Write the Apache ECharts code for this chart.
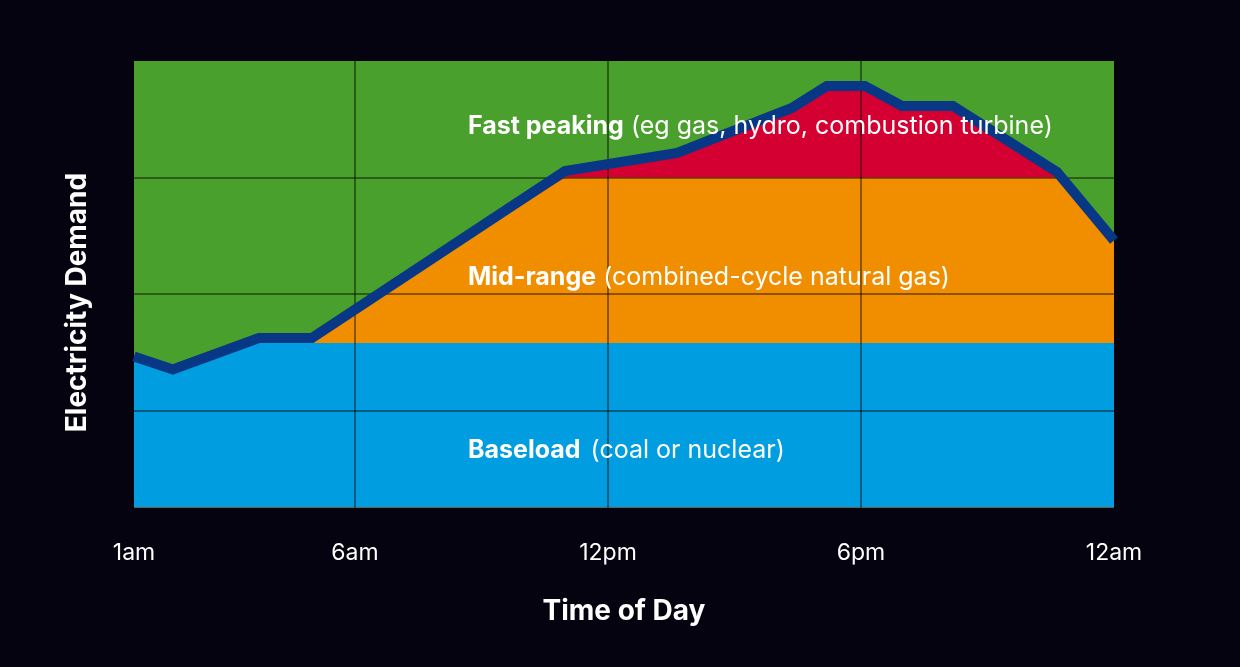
<!DOCTYPE html>
<html>
<head>
<meta charset="utf-8">
<script src="https://cdn.jsdelivr.net/npm/echarts@6/dist/echarts.min.js"></script>
<style>
html,body{margin:0;padding:0;background:#04030f;}
#chart{width:1240px;height:667px;}
</style>
</head>
<body>
<div id="chart"></div>
<script>
// Hours of day (x) and electricity demand (arbitrary units, y)
const hours  = [0.76, 1.68, 3.72, 4.98, 10.98, 13.64, 16.36, 17.19, 18.09, 18.97, 20.18, 22.65, 24];
const demand = [1.465, 1.354, 1.624, 1.624, 3.056, 3.211, 3.597, 3.786, 3.786, 3.614, 3.614, 3.048, 2.46];
// Capacity levels of each generation tier
const baseloadLevel = 1.58;
const midrangeLevel = 3.0;
// Axis ticks and labels
const xTickHours = [6, 12, 18];
const xLabelHours = [0.76, 6, 12, 18, 24];
const xLabels = ['1am', '6am', '12pm', '6pm', '12am'];
const yTickValues = [1, 2, 3];
const yMin = 0.17, yMax = 4;

const FONT = 'Inter';

const peakData = hours.map((h, i) => [h, demand[i]]);
const midData = hours.map((h, i) => [h, Math.min(demand[i], midrangeLevel)]);
const baseData = hours.map((h, i) => [h, Math.min(demand[i], baseloadLevel)]);

function areaSeries(name, data, color) {
  return {
    name, type: 'line', data, z: 2, symbol: 'none', silent: true,
    lineStyle: { width: 0 },
    areaStyle: { color, opacity: 1, origin: 'start' }
  };
}

function tierLabel(top, bold, regular, extraGap) {
  return {
    type: 'text', left: 468, top: top, z: 10,
    style: {
      text: '{b|' + bold + '} {r|' + regular + '}',
      fill: '#fff', fontSize: 25, fontFamily: FONT,
      rich: {
        b: { fill: '#fff', fontSize: 25, fontWeight: 'bold', fontFamily: FONT, padding: [0, extraGap, 0, 0] },
        r: { fill: '#fff', fontSize: 25, fontFamily: FONT }
      }
    }
  };
}

const chart = echarts.init(document.getElementById('chart'));
chart.setOption({
  backgroundColor: '#04030f',
  animation: false,
  grid: { left: 134, right: 126, top: 61, bottom: 159.5, show: true, backgroundColor: '#4aa02c', borderWidth: 0 },
  xAxis: {
    type: 'value', min: 0.76, max: 24, z: 3,
    axisLine: { show: false },
    axisTick: { show: false, customValues: xTickHours },
    splitLine: { show: true, lineStyle: { color: 'rgba(0,0,0,0.42)', width: 2 } },
    axisLabel: {
      customValues: xLabelHours, color: '#ffffff', fontSize: 23, fontFamily: FONT, margin: 34,
      formatter: function (v) {
        for (let i = 0; i < xLabelHours.length; i++) if (Math.abs(xLabelHours[i] - v) < 1e-6) return xLabels[i];
        return '';
      }
    },
    name: 'Time of Day', nameLocation: 'middle', nameGap: 90,
    nameTextStyle: { color: '#ffffff', fontSize: 28, fontWeight: 'bold', fontFamily: FONT }
  },
  yAxis: {
    type: 'value', min: yMin, max: yMax, z: 3,
    axisLine: { show: false },
    axisTick: { show: false, customValues: yTickValues },
    axisLabel: { show: false },
    splitLine: { show: true, lineStyle: { color: 'rgba(0,0,0,0.42)', width: 2 } }
  },
  series: [
    areaSeries('Fast peaking', peakData, '#d50032'),
    areaSeries('Mid-range', midData, '#f18e00'),
    areaSeries('Baseload', baseData, '#009ee0'),
    {
      name: 'Demand', type: 'line', data: peakData, z: 5, symbol: 'none', silent: true,
      lineStyle: { color: '#083885', width: 10, join: 'miter' }
    }
  ],
  graphic: [
    tierLabel(113.5, 'Fast peaking', '(eg gas, hydro, combustion turbine)', 0),
    tierLabel(264.5, 'Mid-range', '(combined-cycle natural gas)', 0),
    tierLabel(437.5, 'Baseload', '(coal or nuclear)', 3),
    {
      type: 'text', x: 78, y: 302.5, rotation: Math.PI / 2, z: 10,
      style: {
        text: 'Electricity Demand', fill: '#fff', fontSize: 28, fontWeight: 'bold', fontFamily: FONT,
        align: 'center', verticalAlign: 'middle'
      }
    }
  ]
});
</script>
</body>
</html>
